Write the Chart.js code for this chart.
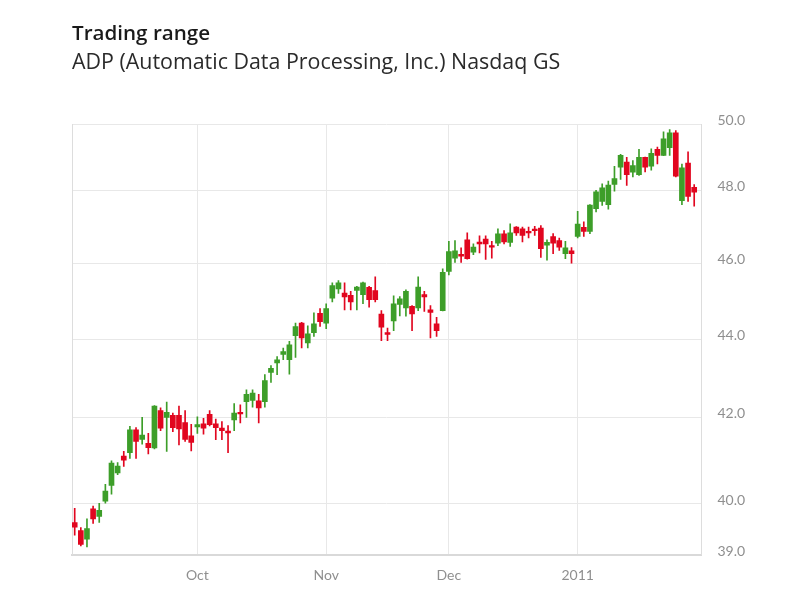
<!DOCTYPE html>
<html>
<head>
<meta charset="utf-8">
<script src="https://cdn.jsdelivr.net/npm/chart.js@4.4.1/dist/chart.umd.min.js"></script>
<style>
  html, body { margin: 0; padding: 0; background: #ffffff; }
  #wrap { width: 800px; height: 600px; }
</style>
</head>
<body>
<div id="wrap"><canvas id="c" width="800" height="600"></canvas></div>
<script>
// ---- Data ----
const dates = [
  '2010-09-02','2010-09-03','2010-09-07','2010-09-08','2010-09-09','2010-09-10','2010-09-13','2010-09-14','2010-09-15','2010-09-16',
  '2010-09-17','2010-09-20','2010-09-21','2010-09-22','2010-09-23','2010-09-24','2010-09-27','2010-09-28','2010-09-29','2010-09-30',
  '2010-10-01','2010-10-04','2010-10-05','2010-10-06','2010-10-07','2010-10-08','2010-10-11','2010-10-12','2010-10-13','2010-10-14',
  '2010-10-15','2010-10-18','2010-10-19','2010-10-20','2010-10-21','2010-10-22','2010-10-25','2010-10-26','2010-10-27','2010-10-28',
  '2010-10-29','2010-11-01','2010-11-02','2010-11-03','2010-11-04','2010-11-05','2010-11-08','2010-11-09','2010-11-10','2010-11-11',
  '2010-11-12','2010-11-15','2010-11-16','2010-11-17','2010-11-18','2010-11-19','2010-11-22','2010-11-23','2010-11-24','2010-11-29',
  '2010-11-30','2010-12-01','2010-12-02','2010-12-03','2010-12-06','2010-12-07','2010-12-08','2010-12-09','2010-12-10','2010-12-13',
  '2010-12-14','2010-12-15','2010-12-16','2010-12-17','2010-12-20','2010-12-21','2010-12-22','2010-12-23','2010-12-27','2010-12-28',
  '2010-12-29','2010-12-30','2011-01-03','2011-01-04','2011-01-05','2011-01-06','2011-01-07','2011-01-10','2011-01-11','2011-01-12',
  '2011-01-13','2011-01-14','2011-01-18','2011-01-19','2011-01-20','2011-01-21','2011-01-24','2011-01-25','2011-01-26','2011-01-27',
  '2011-01-28','2011-01-31'
];

const open = [
  39.63,39.47,39.30,39.90,39.75,40.06,40.42,40.71,41.10,41.18,
  41.71,41.49,41.40,41.29,42.17,42.00,42.05,42.05,41.88,41.57,
  41.78,41.85,42.08,41.85,41.75,41.68,41.94,42.12,42.40,42.43,
  42.42,42.40,43.15,43.39,43.61,43.47,44.09,44.42,43.90,44.17,
  44.68,44.42,45.08,45.32,45.21,45.15,45.28,45.17,45.36,45.28,
  44.66,44.17,44.48,44.91,44.82,44.86,44.82,45.17,44.77,44.40,
  44.75,45.78,46.14,46.24,46.64,46.30,46.58,46.66,46.48,46.55,
  46.80,46.57,46.99,46.94,46.87,46.92,46.96,46.49,46.73,46.62,
  46.26,46.34,46.73,46.98,46.87,47.49,47.69,47.60,48.17,48.69,
  48.85,48.54,48.47,48.99,48.72,49.23,49.05,49.28,49.73,47.71,
  48.82,48.08
];
const high = [
  39.91,39.53,39.70,39.95,40.01,40.45,40.99,40.95,41.21,41.79,
  41.76,42.00,41.63,42.30,42.24,42.39,42.11,42.29,42.17,41.84,
  42.01,41.98,42.17,41.96,41.90,41.81,42.35,42.32,42.70,42.70,
  42.59,43.09,43.32,43.55,43.77,43.94,44.42,44.44,44.35,44.69,
  44.80,44.93,45.48,45.54,45.48,45.26,45.39,45.50,45.39,45.64,
  44.75,44.29,45.14,45.12,45.30,44.88,45.64,45.26,44.88,44.57,
  45.85,46.60,46.62,46.42,46.83,46.53,46.75,46.75,46.60,46.94,
  46.89,47.08,47.00,46.99,46.99,47.01,47.03,46.64,46.81,46.69,
  46.60,46.43,47.42,47.13,47.60,47.99,48.19,48.27,48.72,49.08,
  48.99,48.89,49.23,49.00,49.25,49.30,49.76,49.83,49.80,48.79,
  49.16,48.17
];
const low = [
  39.38,39.17,39.15,39.61,39.63,40.01,40.22,40.67,40.86,41.05,
  41.05,41.38,41.15,41.27,41.69,41.21,41.67,41.36,41.44,41.22,
  41.63,41.61,41.80,41.48,41.48,41.18,41.69,41.87,42.00,42.26,
  41.87,42.26,42.89,43.09,43.47,43.10,43.53,43.77,43.77,44.07,
  44.33,44.27,44.98,45.20,44.77,44.77,44.77,44.93,44.84,44.98,
  43.96,43.96,44.22,44.61,44.60,44.22,44.75,44.73,44.03,44.07,
  44.74,45.69,46.02,46.02,46.11,46.23,46.28,46.10,46.14,46.48,
  46.53,46.46,46.76,46.58,46.69,46.76,46.16,46.08,46.26,46.35,
  46.12,46.00,46.69,46.73,46.81,47.40,47.58,47.48,47.97,48.32,
  48.14,48.40,48.44,48.55,48.60,48.79,49.04,49.05,48.40,47.60,
  47.69,47.56
];
const close = [
  39.54,39.20,39.51,39.70,39.87,40.29,40.94,40.87,41.01,41.71,
  41.44,41.59,41.30,42.29,41.75,42.13,41.76,41.73,41.49,41.42,
  41.83,41.75,41.83,41.76,41.69,41.64,42.11,42.09,42.59,42.62,
  42.24,42.94,43.25,43.47,43.68,43.85,44.33,44.03,44.14,44.40,
  44.46,44.80,45.41,45.48,45.11,44.98,45.37,45.48,45.04,45.04,
  44.31,44.12,44.93,45.06,45.26,44.66,45.37,45.11,44.70,44.22,
  45.76,46.32,46.34,46.19,46.12,46.44,46.53,46.53,46.44,46.80,
  46.58,46.83,46.83,46.76,46.83,46.89,46.40,46.57,46.55,46.44,
  46.42,46.26,47.07,46.87,47.59,47.95,48.07,48.15,48.35,49.05,
  48.47,48.74,48.99,48.69,49.11,49.05,49.55,49.73,48.42,48.67,
  47.83,47.94
];

const yTickValues = [39, 40, 42, 44, 46, 48, 50];
const tickLabels = ['Oct', 'Nov', 'Dec', '2011'];

// ---- Scale: the reference's value axis is not evenly spaced; map through its tick anchors ----
// [value, fraction of plot height from the bottom]
const Y_ANCHORS = [[39, 0], [40, 0.1181], [42, 0.3186], [44, 0.5005], [46, 0.6767], [48, 0.8465], [50, 1]];

class AnchoredScale extends Chart.LinearScale {
  _toDecimal(v) {
    const a = Y_ANCHORS;
    let i = 1;
    while (i < a.length - 1 && v > a[i][0]) i++;
    const [v0, f0] = a[i - 1], [v1, f1] = a[i];
    return f0 + (v - v0) * (f1 - f0) / (v1 - v0);
  }
  _fromDecimal(d) {
    const a = Y_ANCHORS;
    let i = 1;
    while (i < a.length - 1 && d > a[i][1]) i++;
    const [v0, f0] = a[i - 1], [v1, f1] = a[i];
    return v0 + (d - f0) * (v1 - v0) / (f1 - f0);
  }
  getPixelForValue(value) {
    if (value === null || value === undefined || isNaN(value)) return NaN;
    return this.getPixelForDecimal(this._toDecimal(value));
  }
  getValueForPixel(pixel) {
    return this._fromDecimal(this.getDecimalForPixel(pixel));
  }
}
AnchoredScale.id = 'anchored';
AnchoredScale.defaults = {};
Chart.register(AnchoredScale);

// ---- Derived structures ----
const GREEN = '#3d9e29';
const RED = '#e1061f';
const up = open.map((o, i) => close[i] >= o);
const colors = up.map(u => (u ? GREEN : RED));

const bodyData = dates.map((d, i) => ({ x: i, y: [Math.min(open[i], close[i]), Math.max(open[i], close[i])] }));
const wickData = dates.map((d, i) => ({ x: i, y: [low[i], high[i]] }));

const monthStarts = [];
for (let i = 1; i < dates.length; i++) {
  if (dates[i].slice(5, 7) !== dates[i - 1].slice(5, 7)) monthStarts.push(i);
}

const FONT = 'Lato, "Open Sans", "DejaVu Sans", sans-serif';
const TITLE_FONT = '"Open Sans", Lato, "DejaVu Sans", sans-serif';

new Chart(document.getElementById('c'), {
  type: 'bar',
  data: {
    datasets: [
      {
        label: 'Body',
        data: bodyData,
        backgroundColor: colors,
        borderWidth: 0,
        barThickness: 5,
        minBarLength: 1.5,
        grouped: false,
        order: 0
      },
      {
        label: 'Range',
        data: wickData,
        backgroundColor: colors,
        borderWidth: 0,
        barThickness: 1,
        grouped: false,
        order: 1
      }
    ]
  },
  options: {
    responsive: false,
    animation: false,
    layout: { padding: { left: 72, right: 0, top: 0, bottom: 0 } },
    plugins: {
      legend: { display: false },
      tooltip: { enabled: false },
      title: {
        display: true,
        text: 'Trading range',
        align: 'start',
        color: '#1a1a1a',
        font: { family: TITLE_FONT, size: 20.6, weight: '600', lineHeight: 1.25 },
        padding: { top: 21, bottom: 0 }
      },
      subtitle: {
        display: true,
        text: 'ADP (Automatic Data Processing, Inc.) Nasdaq GS',
        align: 'start',
        color: '#2a2a2a',
        font: { family: TITLE_FONT, size: 21.4, weight: 'normal', lineHeight: 1.25 },
        padding: { top: 2.5, bottom: 48 }
      }
    },
    scales: {
      x: {
        type: 'linear',
        min: -0.44,
        max: 102.19,
        offset: false,
        afterBuildTicks: (scale) => { scale.ticks = monthStarts.map(v => ({ value: v })); },
        afterFit: (scale) => { scale.height = 45.5; },
        ticks: {
          autoSkip: false,
          maxRotation: 0,
          padding: 12.5,
          color: '#8f8f8f',
          font: { family: FONT, size: 14 },
          callback: (value) => {
            const k = monthStarts.indexOf(value);
            return k >= 0 ? tickLabels[k] : '';
          }
        },
        grid: { color: '#e8e8e8', drawTicks: false, offset: false },
        border: { display: true, color: '#d9d9d9', width: 2 }
      },
      y: {
        type: 'anchored',
        position: 'right',
        min: 39,
        max: 50,
        afterBuildTicks: (scale) => { scale.ticks = yTickValues.map(v => ({ value: v })); },
        afterFit: (scale) => { scale.width = 98.5; },
        ticks: {
          padding: 16,
          labelOffset: -3.5,
          color: '#8f8f8f',
          font: { family: FONT, size: 14 },
          callback: (value) => Number(value).toFixed(1)
        },
        grid: { color: '#e8e8e8', drawTicks: false },
        border: { display: true, color: '#dddddd', width: 1 }
      },
      yLeft: {
        type: 'linear',
        position: 'left',
        display: true,
        ticks: { display: false },
        grid: { display: false, drawTicks: false },
        border: { display: true, color: '#dddddd', width: 1 }
      }
    }
  }
});
</script>
</body>
</html>
